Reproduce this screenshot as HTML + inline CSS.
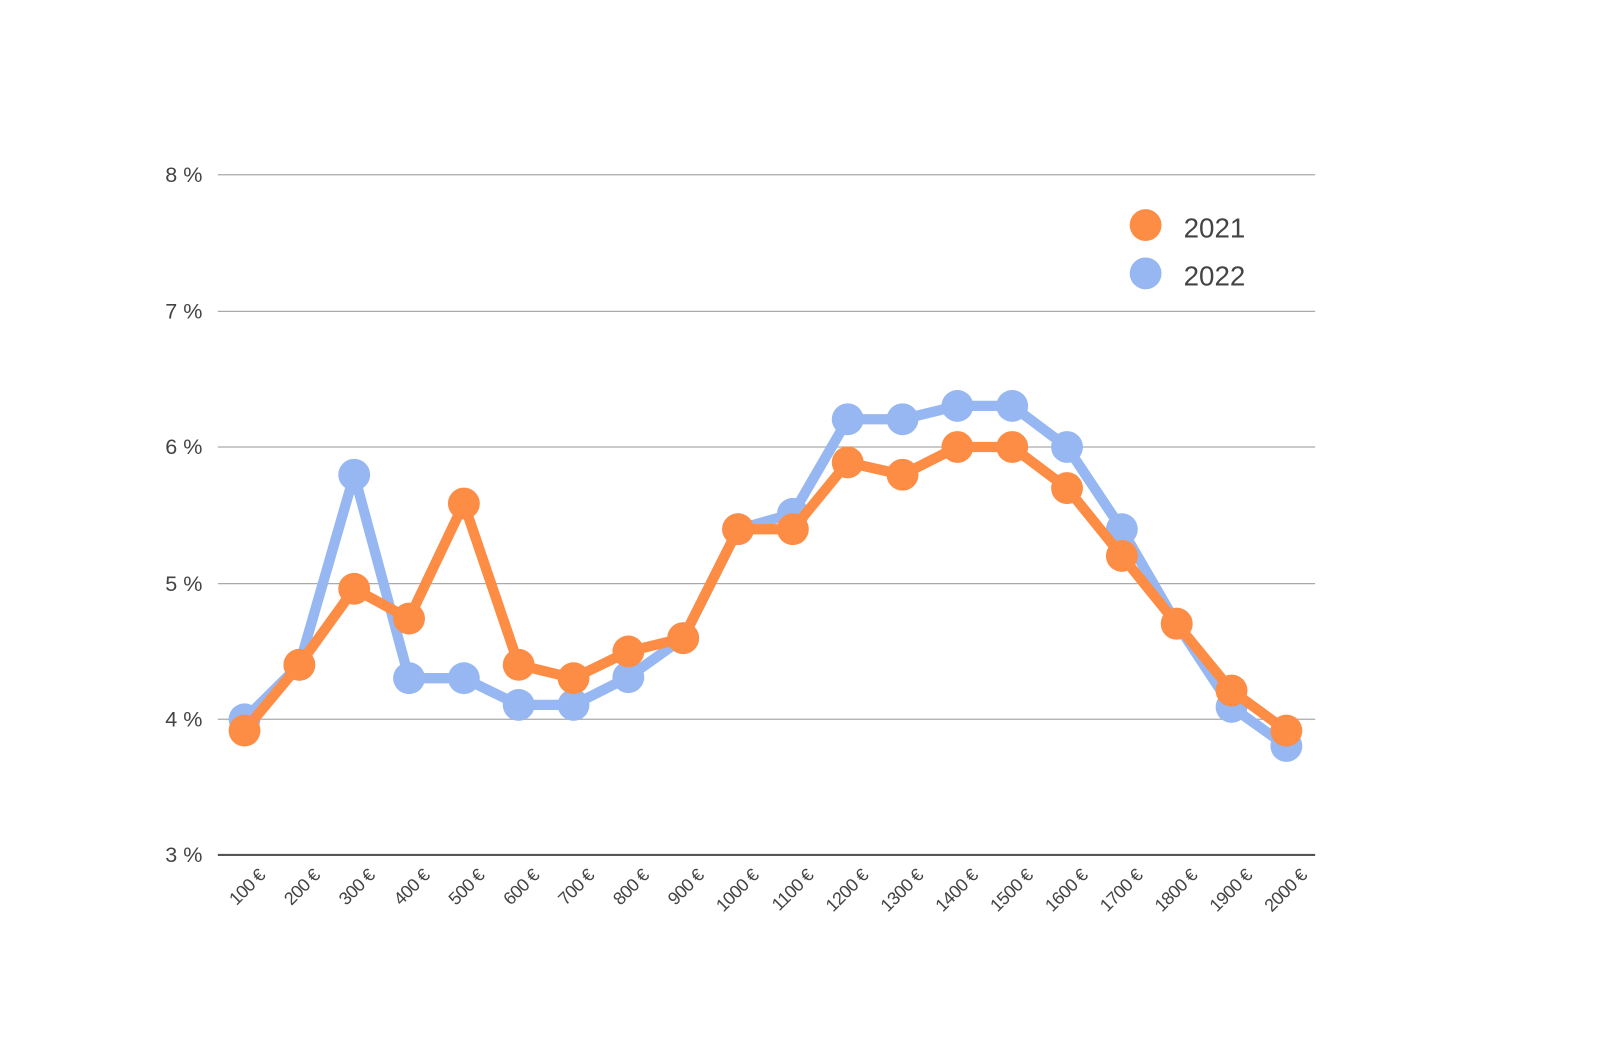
<!DOCTYPE html>
<html><head><meta charset="utf-8"><style>html,body{margin:0;padding:0;background:#fff}svg{display:block}</style></head>
<body>
<svg width="1609" height="1043" viewBox="0 0 1566 1015" xmlns="http://www.w3.org/2000/svg" font-family="Liberation Sans, sans-serif">
<g stroke="#aaa" stroke-width="1.2">
<line x1="212" y1="170" x2="1280" y2="170"/>
<line x1="212" y1="303" x2="1280" y2="303"/>
<line x1="212" y1="435" x2="1280" y2="435"/>
<line x1="212" y1="568" x2="1280" y2="568"/>
<line x1="212" y1="700" x2="1280" y2="700"/>
</g>
<line x1="212" y1="832" x2="1280" y2="832" stroke="#555" stroke-width="2"/>
<g fill="#444" font-size="21" text-anchor="end">
<text x="197" y="177">8 %</text>
<text x="197" y="310">7 %</text>
<text x="197" y="442">6 %</text>
<text x="197" y="575">5 %</text>
<text x="197" y="707">4 %</text>
<text x="197" y="839">3 %</text>
</g>
<g id="labels" fill="#444" font-size="17.5" letter-spacing="-0.6" text-anchor="end"></g>
<polyline id="l22" fill="none" stroke="#96b7f1" stroke-width="10" stroke-linejoin="round"/>
<g id="c22" fill="#96b7f1"></g>
<polyline id="l21" fill="none" stroke="#fd8c45" stroke-width="10" stroke-linejoin="round"/>
<g id="c21" fill="#fd8c45"></g>
<circle cx="1115" cy="219" r="15.5" fill="#fd8c45"/>
<circle cx="1115" cy="266" r="15.5" fill="#96b7f1"/>
<g fill="#444" font-size="27"><text x="1152" y="231">2021</text><text x="1152" y="278">2022</text></g>
</svg>
<script>
var a=[711,647,573,602,490,647,660,634,621,515,515,450,462,435,435,475,541,607,672,711];
var b=[700,647,462,660,660,686,686,659,621,515,500,408,408,395,395,435,515,607,688,726];
var ns="http://www.w3.org/2000/svg";
function X(i){return 238+i*1014/19;}
function draw(d,l,c){var p=[];var g=document.getElementById(c);d.forEach(function(y,i){p.push(X(i)+","+y);var e=document.createElementNS(ns,"circle");e.setAttribute("cx",X(i));e.setAttribute("cy",y);e.setAttribute("r",15.5);g.appendChild(e);});document.getElementById(l).setAttribute("points",p.join(" "));}
draw(b,"l22","c22");draw(a,"l21","c21");
var lg=document.getElementById("labels");
for(var i=0;i<20;i++){var t=document.createElementNS(ns,"text");var x=X(i)+21,y=853;t.setAttribute("x",x);t.setAttribute("y",y);t.setAttribute("transform","rotate(-45 "+x+" "+y+")");t.textContent=((i+1)*100)+" €";lg.appendChild(t);}
</script>
</body></html>
